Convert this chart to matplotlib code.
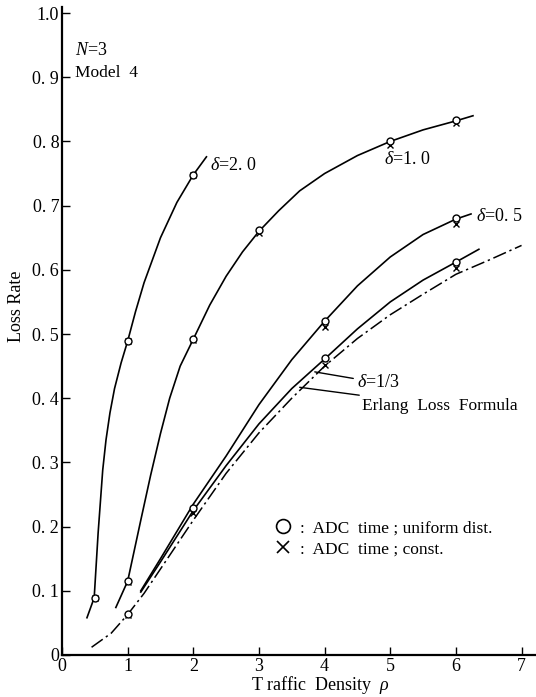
import matplotlib
matplotlib.use("Agg")
import matplotlib.pyplot as plt
from matplotlib.lines import Line2D

plt.rcParams['font.family'] = ['Liberation Serif', 'DejaVu Serif']
plt.rcParams['mathtext.fontset'] = 'custom'
plt.rcParams['mathtext.rm'] = 'Liberation Serif'
plt.rcParams['mathtext.it'] = 'Liberation Serif:italic'

# curves: traffic density rho -> loss rate
rho_d20 = [0.38, 0.49, 0.55, 0.62, 0.67, 0.73, 0.8, 0.9, 1.0, 1.12, 1.25, 1.5, 1.75, 2.0, 2.2]
loss_d20 = [0.058, 0.089, 0.19, 0.288, 0.335, 0.377, 0.415, 0.455, 0.489, 0.535, 0.58, 0.65, 0.705, 0.748, 0.776]

rho_d10 = [0.82, 1.0, 1.2, 1.35, 1.5, 1.64, 1.8, 2.0, 2.25, 2.5, 2.75, 3.0, 3.3, 3.62, 4.0, 4.5, 5.0, 5.5, 6.0, 6.26]
loss_d10 = [0.074, 0.115, 0.21, 0.28, 0.345, 0.40, 0.45, 0.492, 0.545, 0.59, 0.628, 0.66, 0.692, 0.723, 0.75, 0.778, 0.80, 0.818, 0.832, 0.84]

rho_d05 = [1.2, 1.5, 2.0, 2.5, 3.0, 3.5, 4.0, 4.5, 5.0, 5.5, 6.0, 6.23]
loss_d05 = [0.10, 0.15, 0.235, 0.31, 0.39, 0.46, 0.52, 0.575, 0.62, 0.655, 0.679, 0.687]

rho_d13 = [1.2, 1.5, 2.0, 2.5, 3.0, 3.5, 4.0, 4.5, 5.0, 5.5, 6.0, 6.35]
loss_d13 = [0.098, 0.145, 0.225, 0.295, 0.36, 0.415, 0.461, 0.508, 0.55, 0.584, 0.612, 0.632]

rho_erl = [0.45, 0.75, 1.0, 1.25, 1.5, 2.0, 2.5, 3.0, 3.5, 4.0, 4.5, 5.0, 5.5, 6.0, 6.5, 7.0]
loss_erl = [0.012, 0.034, 0.063, 0.096, 0.134, 0.21, 0.283, 0.346, 0.40, 0.45, 0.493, 0.53, 0.562, 0.593, 0.615, 0.638]

# measured points (circle: uniform ADC time, cross: constant ADC time)
pt_rho = [0.5, 1, 2, 1, 2, 3, 5, 6, 1, 2, 4, 6, 4, 6]
pt_uniform = [0.089, 0.489, 0.748, 0.115, 0.492, 0.662, 0.80, 0.833, 0.064, 0.229, 0.52, 0.68, 0.462, 0.612]
pt_const = [0.089, 0.489, 0.748, 0.113, 0.49, 0.657, 0.795, 0.829, 0.062, 0.221, 0.511, 0.671, 0.452, 0.603]

yticks = [0, 0.1, 0.2, 0.3, 0.4, 0.5, 0.6, 0.7, 0.8, 0.9, 1.0]
ylabels = ['0', '0. 1', '0. 2', '0. 3', '0. 4', '0. 5', '0. 6', '0. 7', '0. 8', '0. 9', '1.0']
xticks = [0, 1, 2, 3, 4, 5, 6, 7]

fig = plt.figure(figsize=(5.36, 6.97), dpi=100)
ax = fig.add_axes([0.1157, 0.0603, 0.8843, 0.9302])

lw = 1.2
ax.plot(rho_d20, loss_d20, color='black', lw=lw)
ax.plot(rho_d10, loss_d10, color='black', lw=lw)
ax.plot(rho_d05, loss_d05, color='black', lw=lw)
ax.plot(rho_d13, loss_d13, color='black', lw=lw)
ax.plot(rho_erl, loss_erl, color='black', lw=1.1, linestyle=(0, (9, 2.5, 1.5, 2.5)))

ax.plot(pt_rho, pt_const, linestyle='none', marker='x', ms=5, mew=1.0, color='black', zorder=4)
ax.plot(pt_rho, pt_uniform, linestyle='none', marker='o', ms=5, mew=1.0,
        mfc='white', mec='black', zorder=5)

fs = 13
ax.text(2.25, 0.763, r'$\delta$=2. 0', fontsize=fs, va='center')
ax.text(4.9, 0.772, r'$\delta$=1. 0', fontsize=fs, va='center')
ax.text(6.3, 0.683, r'$\delta$=0. 5', fontsize=fs, va='center')
ax.annotate(r'$\delta$=1/3', xy=(3.85, 0.441), xytext=(4.5, 0.424), fontsize=fs,
            va='center', arrowprops=dict(arrowstyle='-', color='black', lw=1.0,
                                         shrinkA=1, shrinkB=0))
ax.annotate('Erlang  Loss  Formula', xy=(3.62, 0.417), xytext=(4.57, 0.388), fontsize=fs - 0.5,
            va='center', arrowprops=dict(arrowstyle='-', color='black', lw=1.0,
                                         shrinkA=0, shrinkB=0))

ax.text(0.2, 0.942, r'$N$=3', fontsize=fs, va='center')
ax.text(0.2, 0.906, 'Model  4', fontsize=fs - 0.5, va='center')

handles = [Line2D([], [], linestyle='none', marker='o', ms=10, mfc='white', mec='black', mew=1.2),
           Line2D([], [], linestyle='none', marker='x', ms=9, color='black', mew=1.2)]
ax.legend(handles, [':  ADC  time ; uniform dist.', ':  ADC  time ; const.'],
          loc='center left', bbox_to_anchor=(3.26, 0.181), bbox_transform=ax.transData,
          frameon=False, fontsize=fs - 0.5, handlelength=0.8, handletextpad=0.6,
          labelspacing=0.3, borderpad=0, borderaxespad=0)

ax.set_xlim(0, 7.22)
ax.set_ylim(0, 1.01)
ax.set_xticks(xticks)
ax.set_xticklabels([str(t) for t in xticks], fontsize=fs)
ax.set_yticks(yticks)
ax.set_yticklabels(ylabels, fontsize=fs)
ax.tick_params(direction='in', length=6, width=1.0, pad=2)
ax.spines['top'].set_visible(False)
ax.spines['right'].set_visible(False)
ax.spines['left'].set_linewidth(1.6)
ax.spines['bottom'].set_linewidth(1.6)

ax.set_xlabel(r'T raffic  Density  $\rho$', fontsize=fs, va='center')
ax.xaxis.set_label_coords(0.544, -0.046)
ax.set_ylabel('Loss Rate', fontsize=fs, va='center')
ax.yaxis.set_label_coords(-0.095, 0.538)

fig.savefig('out.png', dpi=100)
